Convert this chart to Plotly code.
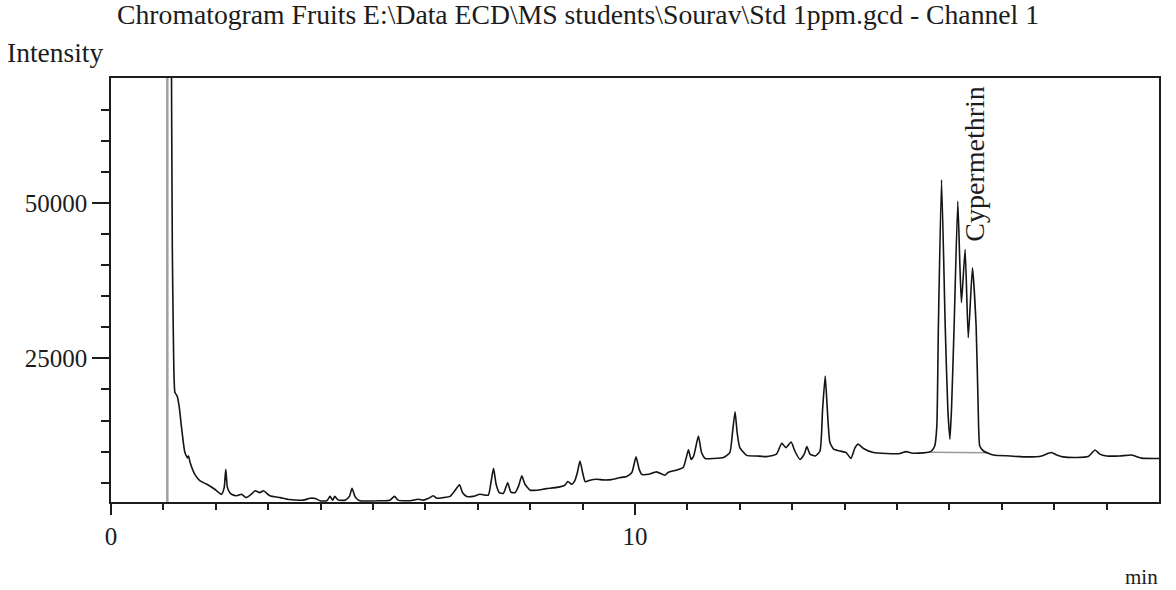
import plotly.graph_objects as go

# ---- data ----
time_min = [
    1.13, 1.15, 1.17, 1.19, 1.22, 1.26, 1.30, 1.35, 1.41, 1.46, 1.48, 1.51, 1.60, 1.70, 1.83, 1.98,
    2.11, 2.16, 2.19, 2.22, 2.26, 2.30, 2.40, 2.49, 2.58, 2.68, 2.75, 2.84, 2.91, 3.03, 3.23, 3.40,
    3.67, 3.80, 3.90, 3.99, 4.12, 4.18, 4.23, 4.27, 4.34, 4.47, 4.55, 4.60, 4.65, 4.68, 4.75, 5.13,
    5.32, 5.41, 5.48, 5.71, 5.86, 5.96, 6.05, 6.15, 6.22, 6.34, 6.47, 6.56, 6.65, 6.71, 6.79, 6.91,
    7.04, 7.20, 7.25, 7.30, 7.35, 7.41, 7.49, 7.57, 7.63, 7.71, 7.78, 7.84, 7.90, 8.00, 8.12, 8.31,
    8.51, 8.66, 8.72, 8.79, 8.85, 8.90, 8.95, 9.00, 9.05, 9.14, 9.27, 9.40, 9.55, 9.70, 9.84, 9.94,
    10.02, 10.08, 10.13, 10.26, 10.41, 10.57, 10.63, 10.80, 10.92, 10.97, 11.02, 11.07, 11.12, 11.21,
    11.27, 11.34, 11.50, 11.69, 11.81, 11.86, 11.91, 11.95, 12.00, 12.13, 12.32, 12.51, 12.70, 12.80,
    12.88, 12.98, 13.05, 13.15, 13.23, 13.28, 13.34, 13.44, 13.53, 13.58, 13.63, 13.67, 13.72, 13.79,
    13.91, 14.03, 14.12, 14.20, 14.26, 14.36, 14.55, 14.80, 15.06, 15.17, 15.30, 15.50, 15.60, 15.66,
    15.72, 15.76, 15.79, 15.85, 15.92, 15.97, 16.01, 16.04, 16.09, 16.16, 16.20, 16.23, 16.30, 16.36,
    16.44, 16.51, 16.55, 16.58, 16.65, 16.84, 17.16, 17.48, 17.76, 17.89, 17.95, 18.05, 18.17, 18.43,
    18.65, 18.78, 18.87, 19.00, 19.25, 19.48, 19.67, 20.00,
]
intensity = [
    150000, 80000, 43000, 28600, 19500, 19000, 17300, 13600, 9850, 9000, 9300, 8250, 6350, 5300, 4750, 3950,
    3150, 4200, 7150, 4300, 3500, 3150, 2900, 3150, 2600, 3150, 3700, 3400, 3700, 2900, 2600, 2300,
    2200, 2500, 2450, 2100, 2100, 2800, 2200, 2800, 2200, 2200, 2800, 4100, 2900, 2500, 2100, 2100,
    2200, 2800, 2200, 2100, 2350, 2200, 2450, 2900, 2500, 2600, 2800, 3700, 4650, 3400, 2800, 2800,
    3150, 3000, 5000, 7300, 4750, 3400, 3300, 5000, 3500, 3400, 4500, 6100, 4750, 3800, 3800, 4050,
    4250, 4600, 5200, 4750, 5300, 6650, 8500, 6650, 5150, 5400, 5550, 5450, 5500, 5800, 6000, 6650,
    9150, 7150, 6350, 6350, 6750, 6200, 6650, 7050, 7450, 8750, 10300, 8750, 9300, 12500,
    9850, 8900, 8900, 9050, 9850, 13000, 16400, 13000, 10650, 9400, 9300, 9200, 9600, 11350,
    10650, 11550, 10100, 8750, 9600, 10800, 9600, 9300, 10100, 16800, 22150, 16800, 11450, 10400,
    10100, 9850, 8900, 10650, 11200, 10500, 9850, 9700, 9700, 10000, 9750, 9800, 9900, 10100,
    10900, 14100, 30200, 53700, 30200, 16800, 12000, 16800, 30200, 50250, 40000, 33950, 42500, 28300,
    39550, 30200, 16800, 10900, 10100, 9450, 9300, 9150, 9300, 9750, 9850, 9450, 9150, 9050,
    9200, 10250, 9600, 9300, 9300, 9450, 8950, 8900,
]

# integration baseline under the Cypermethrin cluster
baseline_t = [15.62, 16.75]
baseline_v = [9900, 9800]

# injection marker
marker_t = [1.075, 1.075]
marker_v = [1900, 70070]

x_range = [0, 20]
y_range = [1900, 70070]
x_major = [0, 10]
x_minor = [1, 2, 3, 4, 5, 6, 7, 8, 9, 11, 12, 13, 14, 15, 16, 17, 18, 19]
y_major = [25000, 50000]
y_minor = [5000, 10000, 15000, 20000, 30000, 35000, 40000, 45000, 55000, 60000, 65000]

title_text = "Chromatogram Fruits E:\\Data ECD\\MS students\\Sourav\\Std 1ppm.gcd - Channel 1"
peak_label = "Cypermethrin"
peak_label_t = 16.49
peak_label_v = 56300

FONT = "Liberation Serif, Times New Roman, serif"
INK = "#1c1c1c"

fig = go.Figure()
fig.add_trace(go.Scatter(x=marker_t, y=marker_v, mode="lines",
                         line=dict(color="#a0a0a0", width=2.5), hoverinfo="skip"))
fig.add_trace(go.Scatter(x=baseline_t, y=baseline_v, mode="lines",
                         line=dict(color="#9a9a9a", width=1.5), hoverinfo="skip"))
fig.add_trace(go.Scatter(x=time_min, y=intensity, mode="lines",
                         line=dict(color="#141414", width=1.6, shape="spline", smoothing=0.5)))

fig.update_layout(
    width=1176, height=590,
    margin=dict(l=111, r=17, t=78, b=88),
    paper_bgcolor="white", plot_bgcolor="white",
    showlegend=False,
    font=dict(family=FONT, color=INK, size=25),
    xaxis=dict(
        range=x_range, showgrid=False, zeroline=False,
        showline=True, linecolor=INK, linewidth=1.5, mirror=True,
        tickmode="array", tickvals=x_major, ticktext=[str(v) for v in x_major],
        ticks="outside", ticklen=11, tickwidth=1.5, tickcolor=INK,
        tickfont=dict(family=FONT, size=25, color=INK),
        minor=dict(tickmode="array", tickvals=x_minor, ticks="outside",
                   ticklen=6, tickwidth=1.5, tickcolor=INK),
    ),
    yaxis=dict(
        range=y_range, showgrid=False, zeroline=False,
        showline=True, linecolor=INK, linewidth=1.5, mirror=True,
        tickmode="array", tickvals=y_major, ticktext=[str(v) for v in y_major],
        ticks="outside", ticklen=17, tickwidth=1.5, tickcolor=INK,
        tickfont=dict(family=FONT, size=25, color=INK),
        minor=dict(tickmode="array", tickvals=y_minor, ticks="outside",
                   ticklen=8, tickwidth=1.5, tickcolor=INK),
    ),
    annotations=[
        dict(text=title_text, xref="paper", yref="paper", x=0.4456, y=1.1486,
             xanchor="center", yanchor="middle", showarrow=False,
             font=dict(family=FONT, size=27.7, color=INK)),
        dict(text="Intensity", xref="paper", yref="paper", x=-0.1011, y=1.0613,
             xanchor="left", yanchor="middle", showarrow=False,
             font=dict(family=FONT, size=27.5, color=INK)),
        dict(text="min", xref="paper", yref="paper", x=1.001, y=-0.177,
             xanchor="right", yanchor="middle", showarrow=False,
             font=dict(family=FONT, size=21, color=INK)),
        dict(text=peak_label, xref="x", yref="y", x=peak_label_t, y=peak_label_v,
             xanchor="center", yanchor="middle", textangle=-90, showarrow=False,
             font=dict(family=FONT, size=28, color=INK)),
    ],
)

fig.write_html("out.html")
